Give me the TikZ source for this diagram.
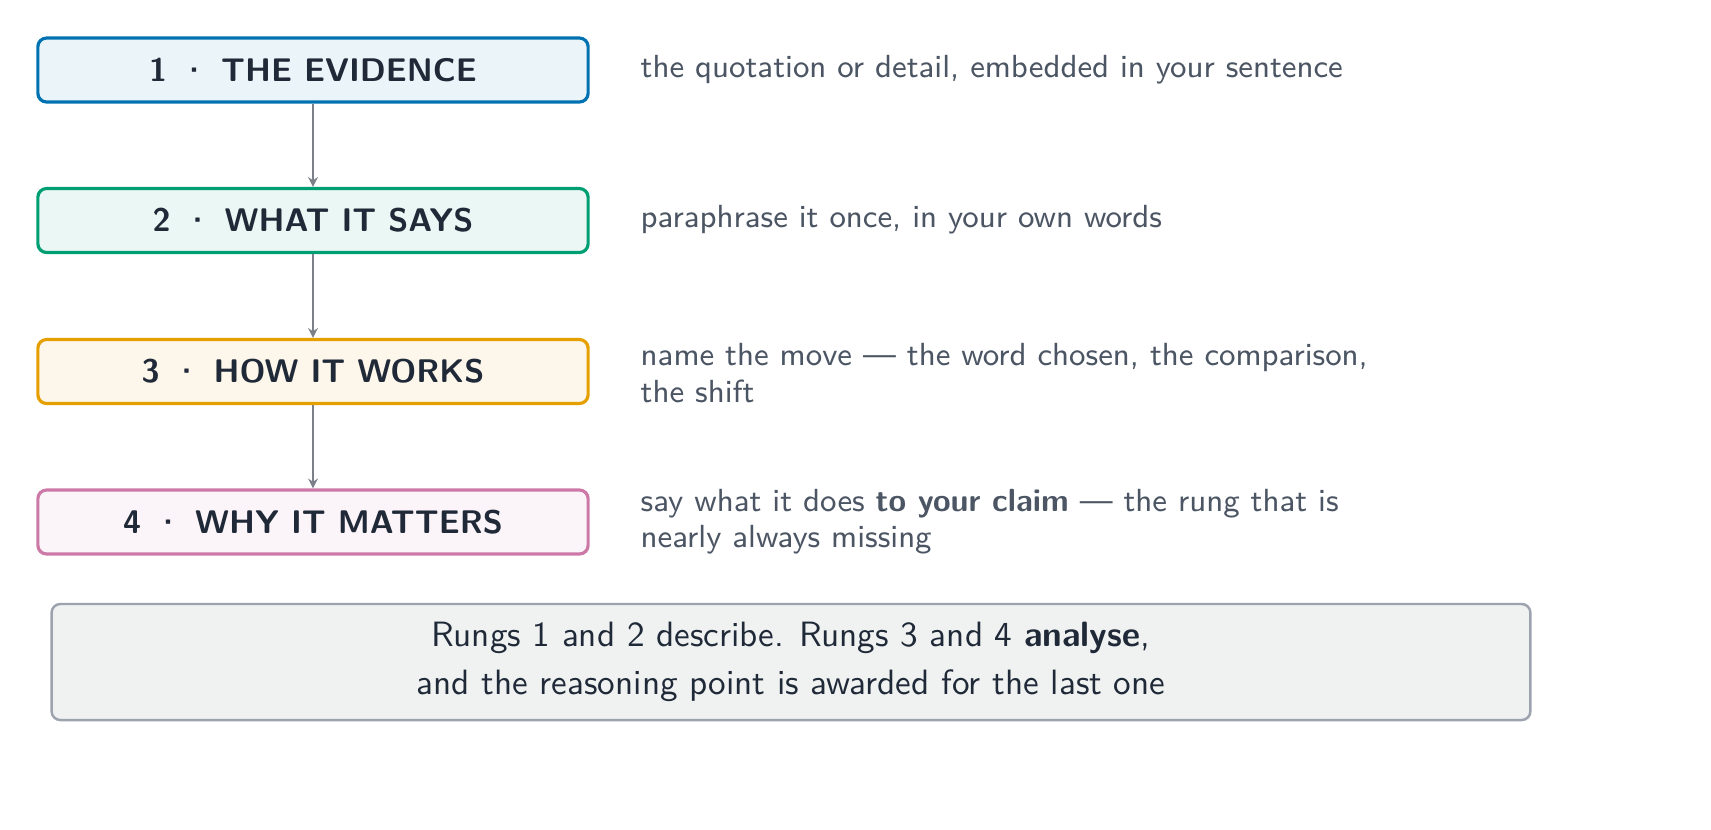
\documentclass[tikz,border=0pt]{standalone}
\usetikzlibrary{arrows.meta}
\definecolor{cblue}{HTML}{0072B2}
\definecolor{cgreen}{HTML}{009E73}
\definecolor{corange}{HTML}{E69F00}
\definecolor{cpink}{HTML}{CC79A7}
\definecolor{tdark}{HTML}{1F2937}
\definecolor{tgrey}{HTML}{4B5563}
\definecolor{agrey}{HTML}{7C8089}
\definecolor{bgrey}{HTML}{9CA3AF}
\definecolor{bfill}{HTML}{F0F2F2}
\newcommand{\rungsep}{\hspace{0.4em}·\hspace{0.4em}}
\begin{document}
\begin{tikzpicture}[x=0.01cm,y=-0.01cm,font=\sffamily,
  rungbox/.style={draw=#1, fill=#1!8, line width=0.9pt, rounded corners=2.5pt,
    text=tdark, font=\sffamily\bfseries\fontsize{9.3}{11}\selectfont,
    minimum width=5.5cm, minimum height=0.64cm, inner sep=0pt},
  desc/.style={anchor=west, align=left, text=tgrey, inner sep=0pt,
    font=\sffamily\fontsize{9.1}{10.3}\selectfont},
  conn/.style={draw=agrey, line width=0.8pt, -{Stealth[length=2.8pt,width=2.8pt]}},
  note/.style={draw=bgrey, fill=bfill, line width=0.7pt, rounded corners=2.5pt,
    minimum width=14.78cm, minimum height=1.16cm, align=center, text=tdark,
    font=\sffamily\fontsize{10}{13.6}\selectfont}
]
\useasboundingbox (0,0) rectangle (1711,829);
\node[rungbox=cblue] (r1) at (313,70) {1\rungsep THE EVIDENCE};
\node[rungbox=cgreen] (r2) at (313,220.5) {2\rungsep WHAT IT SAYS};
\node[rungbox=corange] (r3) at (313,371.5) {3\rungsep HOW IT WORKS};
\node[rungbox=cpink] (r4) at (313,522) {4\rungsep WHY IT MATTERS};
\draw[conn] (r1) -- (r2);
\draw[conn] (r2) -- (r3);
\draw[conn] (r3) -- (r4);
\node[desc] (d1) at (640,70) {the quotation or detail, embedded in your sentence};
\node[desc] (d2) at (640,220) {paraphrase it once, in your own words};
\node[desc] (d3) at (640,373) {name the move --- the word chosen, the comparison,\\the shift};
\node[desc] (d4) at (640,522) {say what it does \textbf{to your claim} --- the rung that is\\nearly always missing};
\node[note] (n) at (791,662) {Rungs 1 and 2 describe. Rungs 3 and 4 \textbf{analyse},\\and the reasoning point is awarded for the last one};
\end{tikzpicture}
\end{document}
